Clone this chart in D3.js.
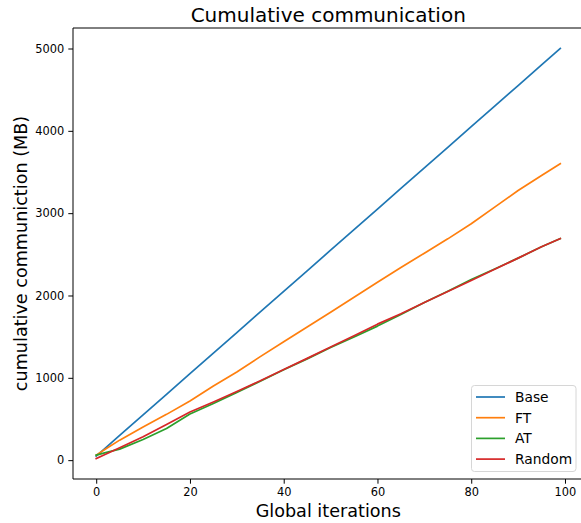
<!DOCTYPE html>
<html>
<head>
<meta charset="utf-8">
<script src="https://cdn.jsdelivr.net/npm/d3@7"></script>
<style>
	body { margin: 0; background: #fff; }
	svg text { font-family: 'DejaVu Sans', sans-serif; fill: #000; }
</style>
</head>
<body>
<div id="chart"></div>
<script>
var iterations = [0, 2, 5, 10, 15, 20, 25, 30, 35, 40, 45, 50, 55, 60, 65, 70, 75, 80, 85, 90, 95, 99];
var baseValues = [50, 150, 300, 550, 800, 1050, 1300, 1550, 1800, 2050, 2300, 2550, 2800, 3050, 3300, 3550, 3800, 4050, 4300, 4550, 4800, 5000];
var ftValues = [61, 135, 243, 404, 556, 718, 900, 1070, 1257, 1439, 1618, 1797, 1979, 2161, 2340, 2514, 2688, 2871, 3073, 3275, 3457, 3600];
var atValues = [61, 92, 134, 251, 385, 560, 689, 823, 958, 1097, 1230, 1368, 1496, 1628, 1770, 1914, 2052, 2194, 2322, 2454, 2591, 2690];
var randomValues = [20, 72, 150, 284, 434, 584, 706, 835, 964, 1101, 1236, 1374, 1512, 1652, 1778, 1914, 2048, 2182, 2318, 2454, 2591, 2690];
var seriesNames = ['Base', 'FT', 'AT', 'Random'];
var xTicks = [0, 20, 40, 60, 80, 100];
var yTicks = [0, 1000, 2000, 3000, 4000, 5000];

var attrs = {
	svgWidth: 581,
	svgHeight: 523,
	marginLeft: 73,
	marginTop: 28,
	plotRight: 583.5,
	plotBottom: 479,
	colors: ['#1f77b4', '#ff7f0e', '#2ca02c', '#d62728'],
	tickFont: 11.4
};

var allSeries = [baseValues, ftValues, atValues, randomValues];

var svg = d3.select('#chart').append('svg')
	.attr('width', attrs.svgWidth)
	.attr('height', attrs.svgHeight);

// matplotlib style 5% margins
var xMin = 0, xMax = 99, xPad = (xMax - xMin) * 0.05;
var yMin = d3.min(allSeries, d => d3.min(d)), yMax = d3.max(allSeries, d => d3.max(d));
var yPad = (yMax - yMin) * 0.05;

var x = d3.scaleLinear()
	.domain([xMin - xPad, xMax + xPad])
	.range([attrs.marginLeft, attrs.plotRight]);
var y = d3.scaleLinear()
	.domain([yMin - yPad, yMax + yPad])
	.range([attrs.plotBottom, attrs.marginTop]);

var plot = svg.append('g');

// Lines
var line = d3.line()
	.x((d, i) => x(iterations[i]))
	.y(d => y(d));

allSeries.forEach(function (values, k) {
	plot.append('path')
		.datum(values)
		.attr('d', line)
		.attr('fill', 'none')
		.attr('stroke', attrs.colors[k])
		.attr('stroke-width', 1.7)
		.attr('stroke-linejoin', 'round')
		.attr('stroke-linecap', 'square');
});

// Axes
var xAxis = svg.append('g')
	.attr('transform', 'translate(0,' + attrs.plotBottom + ')')
	.call(d3.axisBottom(x).tickValues(xTicks).tickSize(4.7).tickPadding(4).tickFormat(d3.format('d')));
var yAxis = svg.append('g')
	.attr('transform', 'translate(' + attrs.marginLeft + ',0)')
	.call(d3.axisLeft(y).tickValues(yTicks).tickSize(4.7).tickPadding(4).tickFormat(d3.format('d')));

[xAxis, yAxis].forEach(function (ax) {
	ax.select('.domain').remove();
	ax.selectAll('line').attr('stroke', '#000').attr('stroke-width', 1);
	ax.selectAll('text').attr('font-size', attrs.tickFont).attr('font-family', 'DejaVu Sans').attr('fill', '#000');
});

// Spines
var frame = svg.append('g').attr('fill', 'none').attr('stroke', '#000').attr('stroke-width', 1);
frame.append('line').attr('x1', attrs.marginLeft).attr('x2', attrs.plotRight).attr('y1', attrs.marginTop).attr('y2', attrs.marginTop);
frame.append('line').attr('x1', attrs.marginLeft).attr('x2', attrs.plotRight).attr('y1', attrs.plotBottom).attr('y2', attrs.plotBottom);
frame.append('line').attr('x1', attrs.marginLeft).attr('x2', attrs.marginLeft).attr('y1', attrs.marginTop).attr('y2', attrs.plotBottom);
frame.append('line').attr('x1', attrs.plotRight).attr('x2', attrs.plotRight).attr('y1', attrs.marginTop).attr('y2', attrs.plotBottom);

// Titles
svg.append('text')
	.attr('x', (attrs.marginLeft + attrs.plotRight) / 2)
	.attr('y', 22)
	.attr('text-anchor', 'middle')
	.attr('font-size', 20)
	.text('Cumulative communication');

svg.append('text')
	.attr('x', (attrs.marginLeft + attrs.plotRight) / 2)
	.attr('y', 517)
	.attr('text-anchor', 'middle')
	.attr('font-size', 17.6)
	.text('Global iterations');

svg.append('text')
	.attr('transform', 'translate(26.5,' + ((attrs.marginTop + attrs.plotBottom) / 2) + ') rotate(-90)')
	.attr('text-anchor', 'middle')
	.attr('font-size', 17.6)
	.text('cumulative communiction (MB)');

// Legend
var legend = svg.append('g').attr('transform', 'translate(471.5,385.5)');
legend.append('rect')
	.attr('width', 104.5)
	.attr('height', 86)
	.attr('rx', 3)
	.attr('fill', '#fff')
	.attr('fill-opacity', 0.8)
	.attr('stroke', '#d6d6d6')
	.attr('stroke-width', 1);

seriesNames.forEach(function (name, k) {
	var row = legend.append('g').attr('transform', 'translate(0,' + (11.5 + k * 20.7) + ')');
	row.append('line')
		.attr('x1', 4.5).attr('x2', 33.5)
		.attr('stroke', attrs.colors[k])
		.attr('stroke-width', 1.7);
	row.append('text')
		.attr('x', 43.5)
		.attr('dy', '0.36em')
		.attr('font-size', 13.8)
		.text(name);
});
</script>
</body>
</html>
